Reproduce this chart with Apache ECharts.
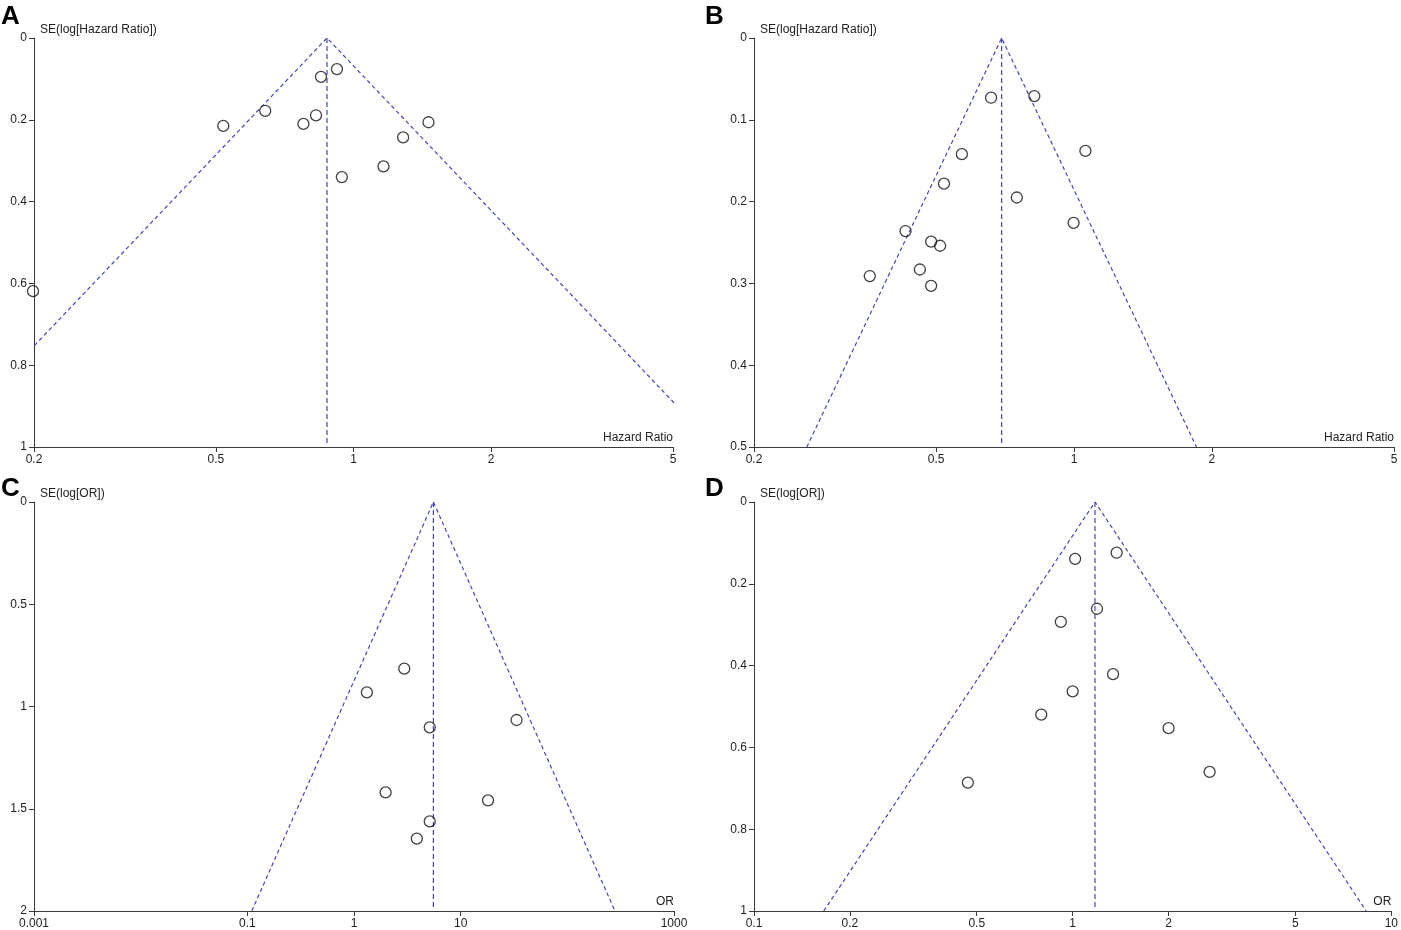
<!DOCTYPE html>
<html>
<head>
<meta charset="utf-8">
<script src="https://cdn.jsdelivr.net/npm/echarts@6/dist/echarts.min.js"></script>
<style>
  html, body { margin: 0; padding: 0; background: #fff; }
  #main { width: 1401px; height: 930px; }
</style>
</head>
<body>
<div id="main"></div>
<script>
// panel A: hazard ratio vs SE
var hrA = [0.920, 0.849, 0.641, 0.519, 0.828, 0.777, 1.459, 1.284, 1.163, 0.943, 0.199];
var seA = [0.076, 0.095, 0.178, 0.215, 0.189, 0.210, 0.206, 0.243, 0.314, 0.340, 0.619];
var sumA = 0.875;
var xTicksA = [0.2, 0.5, 1, 2, 5];
var yTicksA = [0, 0.2, 0.4, 0.6, 0.8, 1];

// panel B
var hrB = [0.659, 0.819, 0.569, 1.059, 0.520, 0.750, 0.998, 0.4285, 0.4875, 0.510, 0.4606, 0.358, 0.4875];
var seB = [0.073, 0.071, 0.142, 0.138, 0.178, 0.195, 0.226, 0.236, 0.249, 0.254, 0.283, 0.291, 0.303];
var sumB = 0.695;
var xTicksB = [0.2, 0.5, 1, 2, 5];
var yTicksB = [0, 0.1, 0.2, 0.3, 0.4, 0.5];

// panel C: odds ratio
var orC = [2.96, 1.32, 33.4, 5.13, 1.98, 18.06, 5.13, 3.88];
var seC = [0.815, 0.931, 1.066, 1.102, 1.420, 1.459, 1.562, 1.646];
var sumC = 5.55;
var xTicksC = [0.001, 0.1, 1, 10, 1000];
var yTicksC = [0, 0.5, 1, 1.5, 2];

// panel D
var orD = [1.374, 1.018, 1.192, 0.918, 1.339, 1.0, 0.797, 2.0, 2.69, 0.469];
var seD = [0.124, 0.139, 0.261, 0.293, 0.421, 0.463, 0.520, 0.553, 0.660, 0.686];
var sumD = 1.175;
var xTicksD = [0.1, 0.2, 0.5, 1, 2, 5, 10];
var yTicksD = [0, 0.2, 0.4, 0.6, 0.8, 1];

var panels = [
    { est: hrA, se: seA, sum: sumA, xt: xTicksA, yt: yTicksA, xName: 'Hazard Ratio', yName: 'SE(log[Hazard Ratio])',
      grid: { left: 34, top: 38, width: 639, height: 409 } },
    { est: hrB, se: seB, sum: sumB, xt: xTicksB, yt: yTicksB, xName: 'Hazard Ratio', yName: 'SE(log[Hazard Ratio])',
      grid: { left: 754, top: 38, width: 640, height: 409 } },
    { est: orC, se: seC, sum: sumC, xt: xTicksC, yt: yTicksC, xName: 'OR', yName: 'SE(log[OR])',
      grid: { left: 34, top: 502, width: 640, height: 410 } },
    { est: orD, se: seD, sum: sumD, xt: xTicksD, yt: yTicksD, xName: 'OR', yName: 'SE(log[OR])',
      grid: { left: 754, top: 502, width: 640, height: 410 } }
];

var dom = document.getElementById('main');
var myChart = echarts.init(dom);

var FONT = '"Liberation Sans", Arial, sans-serif';
var axisColor = '#3a3a3a';
var funnelColor = '#4646b0';

var option = {
    animation: false,
    textStyle: { fontFamily: FONT },
    grid: [],
    xAxis: [],
    yAxis: [],
    series: [],
    graphic: []
};

panels.forEach(function (p, i) {
    var xt = p.xt;
    var ymax = p.yt[p.yt.length - 1];
    var s = Math.log10(p.sum);
    var half = 1.96 * ymax / Math.LN10;   // 95% limits at the bottom of the axis

    option.grid.push(p.grid);

    option.xAxis.push({
        gridIndex: i,
        type: 'value',
        position: 'bottom',
        min: Math.log10(xt[0]),
        max: Math.log10(xt[xt.length - 1]),
        name: p.xName,
        nameLocation: 'end',
        nameGap: 0,
        nameTextStyle: { color: '#222', fontSize: 12, align: 'right', verticalAlign: 'bottom', padding: [0, 0, 3, 0] },
        splitLine: { show: false },
        axisLine: { onZero: false, lineStyle: { color: axisColor, width: 1 } },
        axisTick: { customValues: xt.map(Math.log10), length: 5, lineStyle: { color: axisColor } },
        axisLabel: {
            customValues: xt.map(Math.log10),
            color: '#222',
            fontSize: 12,
            margin: 7,
            formatter: function (v) {
                var best = xt[0];
                xt.forEach(function (t) {
                    if (Math.abs(Math.log10(t) - v) < Math.abs(Math.log10(best) - v)) best = t;
                });
                return String(best);
            }
        }
    });

    option.yAxis.push({
        gridIndex: i,
        type: 'value',
        inverse: true,
        min: 0,
        max: ymax,
        interval: p.yt[1] - p.yt[0],
        name: p.yName,
        nameLocation: 'start',
        nameGap: 2,
        nameTextStyle: { color: '#222', fontSize: 12, align: 'left', verticalAlign: 'bottom', padding: [0, 0, 0, 6] },
        splitLine: { show: false },
        axisLine: { onZero: false, lineStyle: { color: axisColor, width: 1 } },
        axisTick: { length: 5, lineStyle: { color: axisColor } },
        axisLabel: { color: '#222', fontSize: 12, margin: 7 }
    });

    // funnel (pseudo 95% limits)
    option.series.push({
        type: 'line',
        xAxisIndex: i,
        yAxisIndex: i,
        symbol: 'none',
        clip: true,
        lineStyle: { color: funnelColor, width: 1.2, type: [4, 3] },
        data: [[s - half, ymax], [s, 0], [s + half, ymax]]
    });
    // summary estimate
    option.series.push({
        type: 'line',
        xAxisIndex: i,
        yAxisIndex: i,
        symbol: 'none',
        lineStyle: { color: funnelColor, width: 1.2, type: [5, 3] },
        data: [[s, 0], [s, ymax * 0.99]]
    });
    // studies
    option.series.push({
        type: 'scatter',
        xAxisIndex: i,
        yAxisIndex: i,
        clip: false,
        symbol: 'circle',
        symbolSize: 11,
        itemStyle: { color: 'rgba(255,255,255,0)', borderColor: '#111', borderWidth: 1.3 },
        z: 5,
        data: p.est.map(function (v, k) { return [Math.log10(v), p.se[k]]; })
    });
});

// panel letters
[['A', 1, 4], ['B', 705, 4], ['C', 1, 476], ['D', 705, 476]].forEach(function (l) {
    option.graphic.push({
        type: 'text',
        left: l[1],
        top: l[2],
        style: { text: l[0], fontSize: 26, fontWeight: 'bold', fontFamily: FONT, fill: '#000' }
    });
});

if (option && typeof option === 'object') {
    myChart.setOption(option, true);
}

window.addEventListener('resize', function () {
    myChart.resize();
});
</script>
</body>
</html>
